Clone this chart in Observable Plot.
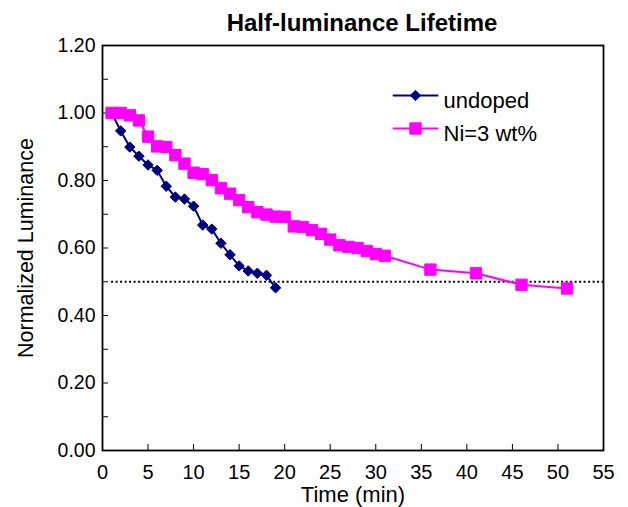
<!DOCTYPE html>
<html><head><meta charset="utf-8">
<script src="https://cdn.jsdelivr.net/npm/d3@7"></script>
<script src="https://cdn.jsdelivr.net/npm/@observablehq/plot@0.6"></script>
<style>
body{margin:0;background:#fff}
svg{font-family:"Liberation Sans",Arial,sans-serif}
</style>
</head><body><div id="chart"></div>
<script>
const titleText = "Half-luminance Lifetime";
const xLabel = "Time (min)";
const yLabel = "Normalized Luminance";
const seriesNames = ["undoped", "Ni=3 wt%"];
const seriesColors = ["#000080", "#ff00ff"];
const seriesSymbols = ["diamond2", "square"];

const undopedTime = [1,2,3,4,5,6,7,8,9,10,11,12,13,14,15,16,17,18,19];
const undopedLum  = [1.00,0.947,0.899,0.872,0.846,0.830,0.783,0.751,0.745,0.724,0.668,0.656,0.614,0.580,0.547,0.532,0.525,0.519,0.482];

const niTime = [1,2,3,4,5,6,7,8,9,10,11,12,13,14,15,16,17,18,19,20,21,22,23,24,25,26,27,28,29,30,31,36,41,46,51];
const niLum  = [1.00,1.00,0.993,0.978,0.930,0.901,0.899,0.875,0.850,0.823,0.819,0.801,0.777,0.761,0.742,0.721,0.706,0.699,0.693,0.692,0.664,0.662,0.653,0.642,0.625,0.608,0.603,0.600,0.591,0.582,0.577,0.536,0.525,0.491,0.480];

const halfLevel = 0.5;
const halfStart = 1;
const halfEnd = 55;

const xTicks = [0,5,10,15,20,25,30,35,40,45,50,55];
const yTicks = [0,0.2,0.4,0.6,0.8,1.0,1.2];
const yMinorTicks = [0.1,0.3,0.5,0.7,0.9,1.1];

const undoped = undopedTime.map((t, i) => ({t, v: undopedLum[i]}));
const ni = niTime.map((t, i) => ({t, v: niLum[i]}));

const markerR = [4.7, 6.4];
const legendShape = {draw(ctx, l) { ctx.moveTo(-l / 2, 0); ctx.lineTo(l / 2, 0); }};
const legendDy = [50, 83];
const legendMarks = seriesNames.flatMap((name, i) => [
  Plot.vector([0], {frameAnchor: "top-left", dx: 313, dy: legendDy[i], length: 44, anchor: "start", shape: legendShape, stroke: seriesColors[i], strokeWidth: 2}),
  Plot.dot([0], {frameAnchor: "top-left", dx: 313, dy: legendDy[i], symbol: seriesSymbols[i], r: markerR[i], fill: seriesColors[i], stroke: seriesColors[i], strokeWidth: 1}),
  Plot.text([name], {frameAnchor: "top-left", dx: 341, dy: legendDy[i] - 3, textAnchor: "start", fontSize: 22, fill: "black"})
]);

const chart = Plot.plot({
  width: 628,
  height: 507,
  marginLeft: 102,
  marginRight: 25,
  marginTop: 45,
  marginBottom: 57,
  style: {fontFamily: "'Liberation Sans', Arial, sans-serif", fontSize: "20px", color: "#000", background: "#fff"},
  x: {domain: [0, 55]},
  y: {domain: [0, 1.2]},
  marks: [
    Plot.axisX(xTicks, {tickSize: -6, tickPadding: 20, fontSize: 20, label: null}),
    Plot.axisX([], {label: xLabel, labelAnchor: "center", labelOffset: 51, labelArrow: "none", fontSize: 22, tickSize: 0}),
    Plot.axisY(yTicks, {tickSize: -6, tickPadding: 13, tickFormat: ".2f", fontSize: 19.5, label: null}),
    Plot.axisY([], {label: yLabel, labelAnchor: "center", labelOffset: 85, labelArrow: "none", fontSize: 21.5, tickSize: 0}),
    Plot.axisY(yMinorTicks, {tickSize: -6, tickFormat: () => "", label: null}),
    Plot.ruleY([halfLevel], {x1: halfStart, x2: halfEnd, stroke: "black", strokeWidth: 2, strokeDasharray: "2,2.5"}),
    Plot.line(undoped, {x: "t", y: "v", stroke: seriesColors[0], strokeWidth: 2}),
    Plot.dot(undoped, {x: "t", y: "v", symbol: seriesSymbols[0], r: markerR[0], fill: seriesColors[0], stroke: seriesColors[0], strokeWidth: 1}),
    Plot.line(ni, {x: "t", y: "v", stroke: seriesColors[1], strokeWidth: 2}),
    Plot.dot(ni, {x: "t", y: "v", symbol: seriesSymbols[1], r: markerR[1], fill: seriesColors[1], stroke: seriesColors[1], strokeWidth: 1}),
    Plot.frame({stroke: "black", strokeWidth: 1.8}),
    Plot.text([titleText], {frameAnchor: "top", dx: 9, dy: -32, fontSize: 24, fontWeight: "bold", fill: "black"}),
    ...legendMarks
  ]
});
document.getElementById("chart").appendChild(chart);
</script>
</body></html>
